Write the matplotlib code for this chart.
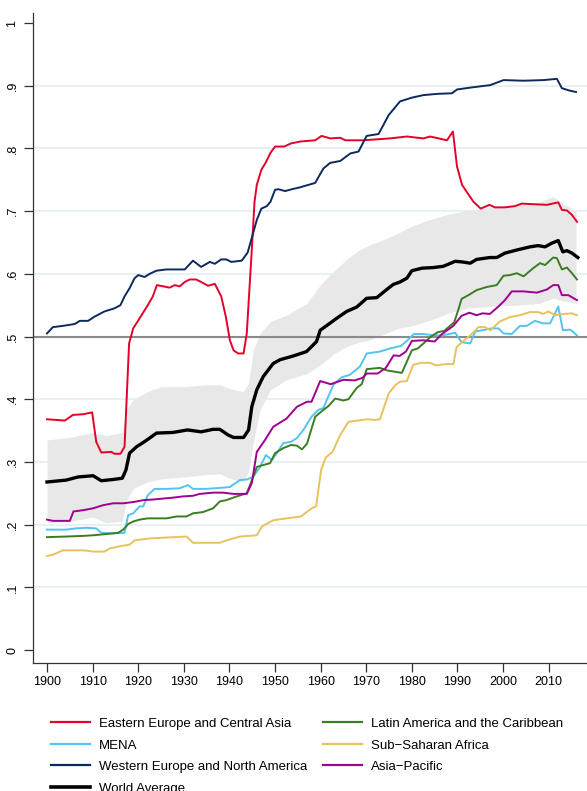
import matplotlib
matplotlib.use("Agg")
import matplotlib.pyplot as plt
from matplotlib.lines import Line2D

plt.rcParams['font.family'] = ['Liberation Sans', 'DejaVu Sans']

# (year, value) pairs
eastern_europe = [(1900, .368), (1903.9, .366), (1905.7, .375), (1907.9, .376), (1909.9, .379), (1910.8, .332),
                  (1911.9, .315), (1914.1, .316), (1914.8, .313), (1916.1, .313), (1917, .324), (1918, .489),
                  (1918.9, .513), (1920.3, .529), (1922.1, .550), (1923.2, .564), (1924.1, .582), (1926.9, .578),
                  (1928, .582), (1929.1, .580), (1930.2, .587), (1931.3, .591), (1932.7, .591), (1933.8, .587),
                  (1935.3, .581), (1936.8, .584), (1938.2, .564), (1939.2, .532), (1940.1, .494), (1940.9, .478),
                  (1941.9, .473), (1943.1, .473), (1943.8, .505), (1944.9, .638), (1945.5, .715), (1946, .742),
                  (1947, .766), (1948, .778), (1949, .793), (1950, .803), (1952, .803), (1953.5, .808),
                  (1955.5, .811), (1958.8, .813), (1960.2, .820), (1962.1, .816), (1964.3, .817), (1965.4, .813),
                  (1969.4, .813), (1975.2, .816), (1978.9, .819), (1982.5, .816), (1984, .819), (1987.7, .813),
                  (1989, .827), (1989.9, .771), (1991, .742), (1992, .731), (1993.5, .715), (1995.1, .704),
                  (1997, .710), (1998.2, .706), (2000.4, .706), (2002.6, .708), (2004.1, .712), (2006.7, .711),
                  (2009.6, .710), (2012.1, .714), (2012.9, .702), (2014, .701), (2015.1, .694), (2016.2, .683)]

mena = [(1900, .192), (1904.2, .192), (1906.4, .194), (1908.6, .195), (1910.8, .194), (1911.9, .187),
        (1914.5, .186), (1917, .187), (1917.8, .215), (1918.9, .218), (1920.3, .229), (1921.1, .229),
        (1922.1, .247), (1923.6, .257), (1926.2, .257), (1929.1, .258), (1930.9, .263), (1932, .257),
        (1934.9, .257), (1938.6, .259), (1940.1, .260), (1942.3, .271), (1943.8, .272), (1945.2, .276),
        (1946.7, .292), (1948, .311), (1949.3, .303), (1950.4, .314), (1951.8, .330), (1953.5, .332),
        (1954.8, .338), (1956.2, .351), (1958, .372), (1959.5, .383), (1960.6, .386), (1962.8, .423),
        (1964.6, .435), (1966.4, .439), (1968.6, .452), (1970.1, .473), (1973, .476), (1975.2, .481),
        (1977.6, .485), (1978.9, .493), (1980.4, .504), (1982.5, .504), (1984.7, .502), (1986.8, .502),
        (1989.5, .506), (1990.9, .491), (1992.8, .489), (1993.9, .508), (1995.5, .510), (1997.5, .513),
        (1999, .513), (2000.1, .505), (2001.9, .504), (2003.7, .517), (2005.2, .517), (2007, .525),
        (2008.8, .521), (2010.3, .521), (2011.4, .537), (2012.1, .548), (2013.1, .510), (2014.7, .511),
        (2016.2, .502)]

western_europe = [(1900, .505), (1901.3, .515), (1903.5, .517), (1906.1, .520), (1907.2, .525), (1909, .525),
                  (1910.5, .532), (1912.6, .540), (1914.8, .545), (1916.1, .550), (1917, .564), (1918.1, .577),
                  (1919.2, .593), (1920, .598), (1921.4, .595), (1922.5, .600), (1924, .605), (1926.2, .607),
                  (1930.2, .607), (1932, .621), (1933.8, .611), (1935.7, .619), (1936.8, .616), (1938.2, .623),
                  (1939.3, .623), (1940.4, .619), (1942.7, .621), (1944, .634), (1945.2, .665), (1946, .686),
                  (1947, .704), (1948.2, .708), (1949, .715), (1950, .734), (1950.7, .735), (1952.2, .732),
                  (1953.7, .735), (1955.5, .738), (1958.8, .745), (1960.6, .768), (1962.1, .777), (1964.3, .780),
                  (1966.5, .792), (1968.3, .795), (1970.1, .820), (1972.7, .823), (1974.9, .853), (1977.4, .875),
                  (1980, .881), (1982.5, .885), (1985.5, .887), (1988.8, .888), (1989.9, .894), (1992.8, .897),
                  (1997.2, .901), (2000.1, .909), (2004.5, .908), (2008.9, .909), (2011.8, .911), (2012.9, .896),
                  (2014.7, .892), (2016, .890)]

latin_america = [(1900, .180), (1904.2, .181), (1907.9, .182), (1910.1, .183), (1913, .185), (1915.6, .187),
                 (1916.7, .192), (1917.8, .201), (1918.9, .205), (1920.3, .208), (1922.1, .210), (1926.2, .210),
                 (1928.4, .213), (1930.6, .213), (1932, .218), (1934.2, .220), (1936.4, .226), (1937.9, .237),
                 (1939.3, .239), (1941.6, .245), (1943.8, .250), (1945.2, .276), (1946, .292), (1947.4, .295),
                 (1948.9, .298), (1950, .314), (1951.8, .322), (1953.5, .327), (1954.8, .326), (1955.9, .320),
                 (1957, .329), (1958.8, .372), (1960.6, .383), (1961.7, .389), (1963.2, .401), (1965, .398),
                 (1966.1, .400), (1967.9, .418), (1969, .424), (1970.1, .448), (1973, .450), (1974.5, .446),
                 (1977.8, .442), (1980, .478), (1981.3, .481), (1982.7, .490), (1984.2, .500), (1985.7, .507),
                 (1987.1, .509), (1988.2, .516), (1989.3, .523), (1990.2, .543), (1990.9, .560), (1992.4, .566),
                 (1994.2, .574), (1996.4, .579), (1998.6, .582), (2000.1, .597), (2001.5, .598), (2003, .601),
                 (2004.5, .596), (2006.6, .609), (2008.1, .617), (2009.2, .614), (2011, .626), (2011.8, .625),
                 (2012.9, .607), (2014, .610), (2015.1, .601), (2016.2, .591)]

sub_saharan = [(1900, .150), (1901.3, .152), (1903.5, .159), (1907.9, .159), (1910.1, .157), (1912.6, .157),
               (1913.7, .162), (1916.3, .166), (1918.1, .168), (1919.2, .175), (1922.5, .178), (1930.6, .181),
               (1932, .171), (1937.9, .171), (1939.4, .175), (1942.3, .181), (1946, .183), (1947.1, .197),
               (1949.6, .207), (1952.5, .210), (1955.7, .213), (1958, .226), (1959, .229), (1960.1, .287),
               (1961.1, .307), (1962.6, .316), (1964.3, .343), (1966.1, .364), (1968.2, .366), (1970.1, .368),
               (1971.9, .367), (1973, .368), (1974.9, .409), (1976.3, .422), (1977.4, .428), (1978.9, .429),
               (1980.3, .455), (1982, .458), (1984, .458), (1985.3, .454), (1987.4, .456), (1989.1, .456),
               (1989.8, .483), (1991.3, .493), (1993, .503), (1994.6, .515), (1996, .515), (1997.2, .510),
               (1999.3, .524), (2001.5, .531), (2003.7, .534), (2005.9, .539), (2007.7, .539), (2008.8, .536),
               (2009.9, .540), (2011.4, .534), (2013.2, .536), (2015.1, .537), (2016.2, .534)]

asia_pacific = [(1900, .208), (1901.3, .206), (1905, .206), (1905.8, .221), (1907.9, .223), (1910.1, .226),
                (1912.3, .231), (1914.5, .234), (1916.7, .234), (1918.9, .236), (1921.1, .239), (1923.2, .240),
                (1927.6, .243), (1929.8, .245), (1932, .246), (1933.5, .249), (1936.4, .251), (1938.6, .251),
                (1940.9, .249), (1943.8, .249), (1944.9, .266), (1946, .316), (1947.8, .335), (1949.6, .356),
                (1952.5, .369), (1954.8, .388), (1957, .396), (1958, .396), (1959.9, .429), (1962.2, .424),
                (1965, .431), (1967.4, .430), (1969.2, .434), (1970.1, .441), (1972.5, .441), (1974.3, .450),
                (1976, .470), (1977.3, .469), (1978.7, .476), (1980, .493), (1982.5, .494), (1985, .492),
                (1986.6, .504), (1989.1, .517), (1990.9, .533), (1992.6, .538), (1994.2, .534), (1995.5, .537),
                (1997.1, .536), (1999, .548), (2000.4, .558), (2001.9, .572), (2004.5, .572), (2007.4, .570),
                (2009.6, .575), (2011, .582), (2012.1, .582), (2012.9, .566), (2014.3, .566), (2016.2, .558)]

world_avg = [(1900, .268), (1904.2, .271), (1906.8, .276), (1910.1, .278), (1911.9, .270), (1914.5, .272),
             (1916.5, .274), (1917.3, .287), (1918.1, .314), (1919.6, .324), (1921.1, .331), (1922.5, .338),
             (1924, .346), (1927.6, .347), (1930.8, .351), (1933.8, .348), (1936.4, .352), (1937.9, .352),
             (1939.7, .343), (1940.9, .339), (1943.1, .339), (1944.2, .351), (1944.9, .388), (1946, .415),
             (1947.4, .436), (1949.6, .457), (1951.1, .463), (1954, .469), (1956.9, .476), (1959.1, .492),
             (1959.9, .510), (1962, .521), (1963.5, .529), (1965.7, .540), (1967.9, .547), (1970.1, .561),
             (1972.3, .562), (1974.5, .575), (1975.9, .583), (1977.4, .587), (1978.9, .593), (1980, .605),
             (1982.2, .609), (1984.7, .610), (1986.9, .612), (1989.5, .620), (1991, .619), (1992.8, .617),
             (1994.2, .623), (1997.1, .626), (1998.6, .626), (2000.4, .633), (2003, .638), (2005.9, .643),
             (2007.7, .645), (2009.2, .643), (2010.7, .649), (2012.1, .653), (2013.1, .635), (2014, .637),
             (2015.1, .633), (2016.4, .626)]

# confidence band around the world average
band_years = [1900, 1905, 1910, 1913, 1916.5, 1917.5, 1919, 1922, 1925, 1930, 1935, 1938, 1940, 1943,
              1944.2, 1945.2, 1946.7, 1949, 1952.5, 1957, 1960, 1963, 1966, 1968, 1971, 1974, 1977, 1980,
              1984, 1988, 1992, 1997, 2003, 2008, 2011, 2013, 2016]
band_hi = [.335, .339, .347, .342, .347, .385, .400, .412, .420, .420, .423, .423, .417, .412,
           .425, .478, .505, .524, .534, .553, .583, .605, .625, .636, .647, .655, .665, .676,
           .687, .695, .701, .706, .710, .715, .723, .713, .700]
band_lo = [.203, .205, .212, .203, .205, .240, .258, .268, .273, .276, .280, .281, .274, .268,
           .285, .330, .383, .415, .431, .441, .455, .473, .485, .490, .495, .504, .513, .517,
           .526, .537, .545, .548, .550, .553, .561, .557, .553]

series = [
    ("Eastern Europe and Central Asia", eastern_europe, "#e4002b"),
    ("MENA", mena, "#55c3f0"),
    ("Western Europe and North America", western_europe, "#0d2a5c"),
    ("Latin America and the Caribbean", latin_america, "#3b7d23"),
    ("Sub\u2212Saharan Africa", sub_saharan, "#e8c25c"),
    ("Asia\u2212Pacific", asia_pacific, "#a0008f"),
]

fig = plt.figure(figsize=(5.87, 7.91), dpi=100)
ax = fig.add_axes([33 / 587, 1 - 663 / 791, 554 / 587, 650 / 791])

ax.set_xlim(1896.93, 2018.4)
ax.set_ylim(-0.0207, 1.016)

for v in [.1, .2, .3, .4, .6, .7, .8, .9]:
    ax.axhline(v, color="#e5f0f2", lw=1.3, zorder=0)

ax.fill_between(band_years, band_lo, band_hi, color="#e8e8e8", lw=0, zorder=1)
ax.axhline(0.5, color="#8a8a8a", lw=1.5, zorder=2)

handles = {}
for name, pts, col in series:
    xs = [p[0] for p in pts]
    ys = [p[1] for p in pts]
    ax.plot(xs, ys, color=col, lw=1.4, zorder=3)
    handles[name] = Line2D([], [], color=col, lw=1.6)

xs = [p[0] for p in world_avg]
ys = [p[1] for p in world_avg]
ax.plot(xs, ys, color="black", lw=2.4, zorder=4)
handles["World Average"] = Line2D([], [], color="black", lw=2.6)

ax.set_yticks([0, .1, .2, .3, .4, .5, .6, .7, .8, .9, 1])
ax.set_yticklabels(["0", ".1", ".2", ".3", ".4", ".5", ".6", ".7", ".8", ".9", "1"],
                   rotation=90, va="center")
ax.set_xticks(range(1900, 2011, 10))
ax.tick_params(axis="both", labelsize=9, length=6.5, width=0.9, color="#333333")
ax.tick_params(axis="y", pad=4)
ax.tick_params(axis="x", pad=3)

for s in ["top", "right"]:
    ax.spines[s].set_visible(False)
for s in ["left", "bottom"]:
    ax.spines[s].set_color("#333333")
    ax.spines[s].set_linewidth(0.9)

order = ["Eastern Europe and Central Asia", "MENA", "Western Europe and North America", "World Average",
         "Latin America and the Caribbean", "Sub\u2212Saharan Africa", "Asia\u2212Pacific"]
fig.legend([handles[k] for k in order], order, ncol=2, loc="upper left",
           bbox_to_anchor=(0.066, 1 - 706 / 791), frameon=False, fontsize=9.5,
           handlelength=3.0, handletextpad=0.65, columnspacing=1.2, labelspacing=0.70)

fig.savefig("out.png", dpi=100)
